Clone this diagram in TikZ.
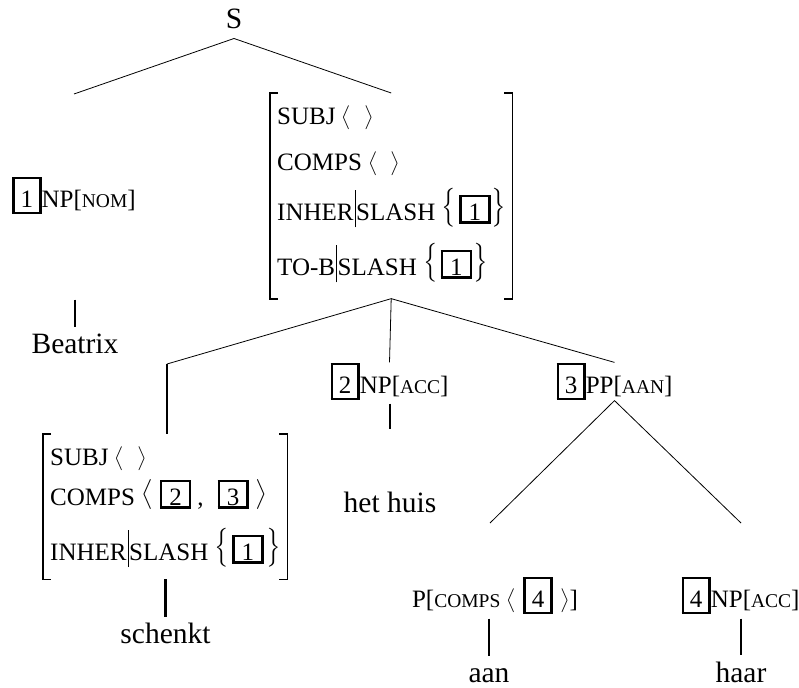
\documentclass[tikz,border=0pt]{standalone}
\usepackage{fontspec}
\setmainfont{Liberation Serif}
\usepackage{graphicx}
\usepackage{tikz}

\newcommand\catfont{\fontsize{25}{30}\selectfont}
\newcommand\wordfont{\fontsize{29.5}{35}\selectfont}
\newcommand\fsc[1]{{\fontsize{19.5}{23}\selectfont #1}}
\newcommand\tagnum[1]{{\setlength\fboxsep{1pt}\setlength\fboxrule{2.4pt}%
  \fbox{\rule[-4pt]{0pt}{31pt}\kern5pt#1\kern5pt}}}
\newcommand\avmtag[1]{{\setlength\fboxsep{1pt}\setlength\fboxrule{2.4pt}%
  \fbox{\rule{0pt}{22pt}\kern6pt#1\kern6pt}}}
% delimiters set at 10pt and scaled up
\newcommand\slang{\raisebox{1.5pt}{\scalebox{2}{\normalsize$\left\langle\vcenter to 12pt{}\right.$}}}
\newcommand\srang{\raisebox{1.5pt}{\scalebox{2}{\normalsize$\left.\vcenter to 12pt{}\right\rangle$}}}
\newcommand\blang{\raisebox{4pt}{\scalebox{2.5}{\normalsize$\left\langle\vcenter to 12pt{}\right.$}}}
\newcommand\brang{\raisebox{4pt}{\scalebox{2.5}{\normalsize$\left.\vcenter to 12pt{}\right\rangle$}}}
\newcommand\lbrc{\raisebox{4.5pt}{\scalebox{2.5}[3.25]{\normalsize$\left\{\vcenter to 12pt{}\right.$}}}
\newcommand\rbrc{\raisebox{4.5pt}{\scalebox{2.5}[3.25]{\normalsize$\left.\vcenter to 12pt{}\right\}$}}}
\newcommand\pbar{\kern1pt\rule[-7pt]{.6pt}{37pt}\kern1pt}

\begin{document}
\begin{tikzpicture}[x=1pt,y=-1pt,
    branch/.style={line width=.8pt},
    stem/.style={line width=2.2pt},
    bracket/.style={line width=1.8pt},
    cat/.style={anchor=base,inner sep=0pt,font=\catfont},
    word/.style={anchor=base,inner sep=0pt,font=\wordfont},
    avm/.style={anchor=north west,inner xsep=7pt,inner ysep=10pt,font=\catfont}]
  \useasboundingbox (0,0) rectangle (799,687);
  % categories and words
  \node[word] (S) at (234,29) {S};
  \node[cat] (np1) at (74,207) {\tagnum{1}NP[\fsc{NOM}]};
  \node[word] (beatrix) at (75,353) {Beatrix};
  \node[avm] (top) at (270,93) {\makebox[228pt][l]{\begin{tabular}{@{}l@{}}
      SUBJ \slang\kern8pt\srang\\[16pt]
      COMPS \slang\kern8pt\srang\\[9pt]
      INHER\pbar SLASH \lbrc\avmtag{1}\kern-2pt\rbrc\\[14pt]
      TO-B\pbar SLASH \lbrc\avmtag{1}\kern-2pt\rbrc\\[4pt]
    \end{tabular}}};
  \node[avm] (low) at (43,434) {\makebox[230pt][l]{\begin{tabular}{@{}l@{}}
      SUBJ \slang\kern8pt\srang\\[5.5pt]
      COMPS \blang\kern4pt\avmtag{2}\kern6pt,\kern14pt\avmtag{3}\kern4pt\brang\\[14pt]
      INHER\pbar SLASH \lbrc\avmtag{1}\rbrc
    \end{tabular}}};
  \node[word] (schenkt) at (165.5,643) {schenkt};
  \node[cat] (np2) at (389.5,393) {\tagnum{2}NP[\fsc{ACC}]};
  \node[word] (huis) at (390,512) {het huis};
  \node[cat] (pp) at (614.5,393) {\tagnum{3}PP[\fsc{AAN}]};
  \node[cat] (p) at (495,607) {P[\fsc{COMPS} \slang\kern5pt\tagnum{4}\kern5pt\srang]};
  \node[word] (aan) at (489,682) {aan};
  \node[cat] (np4) at (740.5,607) {\tagnum{4}NP[\fsc{ACC}]};
  \node[word] (haar) at (741,682) {haar};
  % AVM brackets
  \foreach \m in {top,low} {
    \draw[bracket] ([xshift=8pt]\m.north west) -- (\m.north west)
      -- (\m.south west) -- ([xshift=8pt]\m.south west);
    \draw[bracket] ([xshift=-8pt]\m.north east) -- (\m.north east)
      -- (\m.south east) -- ([xshift=-8pt]\m.south east);
  }
  % branches
  \coordinate (sfoot) at ([yshift=-9pt]S.south);
  \coordinate (np1head) at (74,94);
  \coordinate (vhead) at (167,364);
  \coordinate (phead) at (490,523);
  \coordinate (np4head) at (741,523);
  \draw[branch] (np1head) -- (sfoot) -- (top.north);
  \draw[branch] (vhead) -- (top.south) -- (pp.north);
  \draw[branch] (top.south) -- (np2.north);
  \draw[branch] (phead) -- (pp.south) -- (np4head);
  \draw[stem] (vhead) -- (vhead |- low.north);
  % unary stems
  \draw[stem,shorten <=85pt,shorten >=6pt] (beatrix.north |- np1.south) -- (beatrix.north);
  \draw[stem,shorten >=5pt] (schenkt.north |- low.south) -- (schenkt.north);
  \draw[stem,shorten <=3pt,shorten >=62pt] (huis.north |- np2.south) -- (huis.north);
  \draw[stem,shorten <=4pt,shorten >=12pt] (aan.north |- p.south) -- (aan.north);
  \draw[stem,shorten <=4pt,shorten >=6pt] (haar.north |- np4.south) -- (haar.north);
\end{tikzpicture}
\end{document}
